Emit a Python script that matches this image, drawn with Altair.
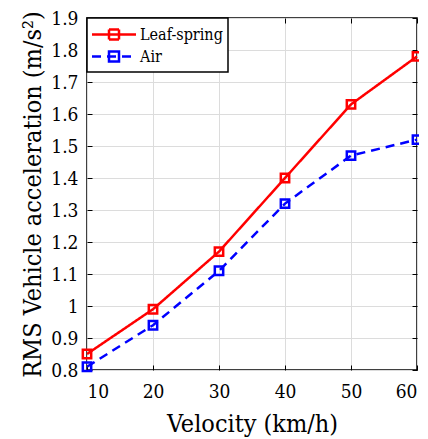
import altair as alt
import pandas as pd

velocity = [10, 20, 30, 40, 50, 60]
leaf_spring = [0.85, 0.99, 1.17, 1.40, 1.63, 1.78]
air = [0.81, 0.94, 1.11, 1.32, 1.47, 1.52]
series = ["Leaf-spring", "Air"]
colors = ["#ff0000", "#0000ff"]
x_ticks = [10, 20, 30, 40, 50, 60]
y_ticks = [0.8, 0.9, 1.0, 1.1, 1.2, 1.3, 1.4, 1.5, 1.6, 1.7, 1.8, 1.9]

df = pd.DataFrame({
    "Velocity": velocity * 2,
    "Acc": leaf_spring + air,
    "Series": [series[0]] * len(velocity) + [series[1]] * len(velocity),
})

W, H = 330, 352
FONT = "DejaVu Serif Condensed"
TICK = 5

xs = alt.Scale(domain=[10, 60], nice=False)
ys = alt.Scale(domain=[0.8, 1.9], nice=False)

color = alt.Color("Series:N", scale=alt.Scale(domain=series, range=colors),
                  legend=alt.Legend(title=None))
dash = alt.StrokeDash("Series:N", scale=alt.Scale(domain=series, range=[[1, 0], [9, 6]]),
                      legend=alt.Legend(title=None))

x_axis = alt.Axis(values=x_ticks, ticks=True, tickSize=TICK, offset=-TICK,
                  domain=False, grid=True, labelPadding=12, titlePadding=10,
                  labelOverlap=False)
y_axis = alt.Axis(values=y_ticks, format="~g", ticks=True, tickSize=TICK,
                  offset=-TICK, domain=False, grid=True, labelPadding=9,
                  titlePadding=5, labelOverlap=False)

def main_x():
    return alt.X("Velocity:Q", scale=xs, title="Velocity (km/h)", axis=x_axis)

def main_y():
    return alt.Y("Acc:Q", scale=ys, title="RMS Vehicle acceleration (m/s²)", axis=y_axis)

lines = alt.Chart(df).mark_line(strokeWidth=2.5).encode(
    x=main_x(), y=main_y(), color=color, strokeDash=dash,
    order="Velocity:Q",
)
points = alt.Chart(df).mark_point(shape="square", filled=False, size=70, strokeWidth=2.5,
                                  opacity=1).encode(
    x=main_x(), y=main_y(),
    color=alt.Color("Series:N", scale=alt.Scale(domain=series, range=colors), legend=None),
)
base = alt.layer(lines, points)

tick_axis = dict(labels=False, grid=False, domain=False, ticks=True, tickSize=TICK,
                 offset=-TICK, title="")
mirror = alt.Chart(df).mark_point(opacity=0).encode(
    x=alt.X("Velocity:Q", scale=xs, axis=alt.Axis(orient="top", values=x_ticks, **tick_axis)),
    y=alt.Y("Acc:Q", scale=ys, axis=alt.Axis(orient="right", values=y_ticks, **tick_axis)),
)

# legend glyph: a line with a square marker; the square outline is traced three
# times so that a dashed stroke still renders it solid
square_loop = "L0.5,-0.5L0.5,0.5L-0.5,0.5L-0.5,-0.5"
legend_symbol = "M-2.2,0L2.2,0M-0.5,-0.5" + square_loop * 3

chart = alt.layer(base, mirror).resolve_axis(
    x="independent", y="independent"
).properties(
    width=W, height=H,
    autosize=alt.AutoSizeParams(type="none"),
    padding={"left": 79, "top": 10, "right": 2, "bottom": 68},
).configure_view(
    stroke="black", strokeWidth=1.5
).configure_axis(
    labelFont=FONT, titleFont=FONT, labelFontSize=19, titleFontSize=25,
    labelColor="black", titleColor="black", titleFontWeight="normal",
    gridColor="#dcdcdc", gridWidth=1, tickColor="black", tickWidth=1,
).configure_legend(
    orient="top-left", offset=0, padding=5,
    fillColor="white", strokeColor="black", strokeWidth=1.5,
    labelFont=FONT, labelFontSize=16, labelColor="black", labelLimit=0,
    symbolType=legend_symbol,
    symbolSize=400, symbolStrokeWidth=2.5, symbolOffset=10.5, labelOffset=14.5,
    rowPadding=0,
)

chart.save("out.html", embed_options={"renderer": "svg", "actions": False})
